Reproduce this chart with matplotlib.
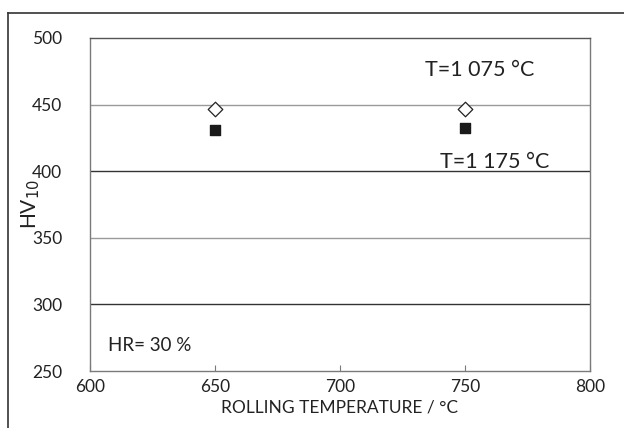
import matplotlib.pyplot as plt
from matplotlib.lines import Line2D

plt.rcParams['font.family'] = ['Lato', 'DejaVu Sans']

rolling_temp = [650, 750]
hv_1075 = [447, 446.5]
hv_1175 = [431, 432.5]

W, H = 624, 428
fig = plt.figure(figsize=(W / 100, H / 100), dpi=100)
ax = fig.add_axes([90 / W, 1 - 371 / H, 500 / W, 333 / H])

# horizontal grid, alternating light / dark like the original
for y, c in [(300, '#333333'), (350, '#9a9a9a'), (400, '#333333'), (450, '#9a9a9a')]:
    ax.axhline(y, color=c, lw=1.0, zorder=1)

ax.scatter(rolling_temp, hv_1075, marker='D', s=55, facecolors='white',
           edgecolors='#222222', linewidths=0.9, zorder=3)
ax.scatter(rolling_temp, hv_1175, marker='s', s=55, color='#1a1a1a', zorder=3)

ax.set_xlim(600, 800)
ax.set_ylim(250, 500)
ax.set_xticks([600, 650, 700, 750, 800])
ax.set_yticks([250, 300, 350, 400, 450, 500])

for s in ax.spines.values():
    s.set_color('#7a7a7a')
    s.set_linewidth(1.0)
ax.spines['top'].set_color('#555555')

ax.tick_params(axis='x', direction='in', length=4, color='#7a7a7a', labelsize=12.5,
               pad=6, labelcolor='#222222')
ax.tick_params(axis='y', length=0, labelsize=12.5, pad=20, labelcolor='#222222')

ax.set_xlabel('ROLLING TEMPERATURE / °C', fontsize=12.5, color='#222222', labelpad=3)
ax.set_ylabel('HV$_{10}$', fontsize=15, color='#222222')
ax.yaxis.set_label_coords(-0.095, 0.5)

ax.text(756, 476, 'T=1 075 °C', fontsize=15.5, ha='center', va='center', color='#222222')
ax.text(762, 407, 'T=1 175 °C', fontsize=15.5, ha='center', va='center', color='#222222')
ax.text(607, 269, 'HR= 30 %', fontsize=13.5, ha='left', va='center', color='#222222')

# outer frame (top and left edges visible in the original)
fig.add_artist(Line2D([8 / W, 1], [1 - 13 / H, 1 - 13 / H], color='#333333', lw=1.2))
fig.add_artist(Line2D([8 / W, 8 / W], [0, 1 - 13 / H], color='#333333', lw=1.2))

fig.savefig('out.png', dpi=100)
